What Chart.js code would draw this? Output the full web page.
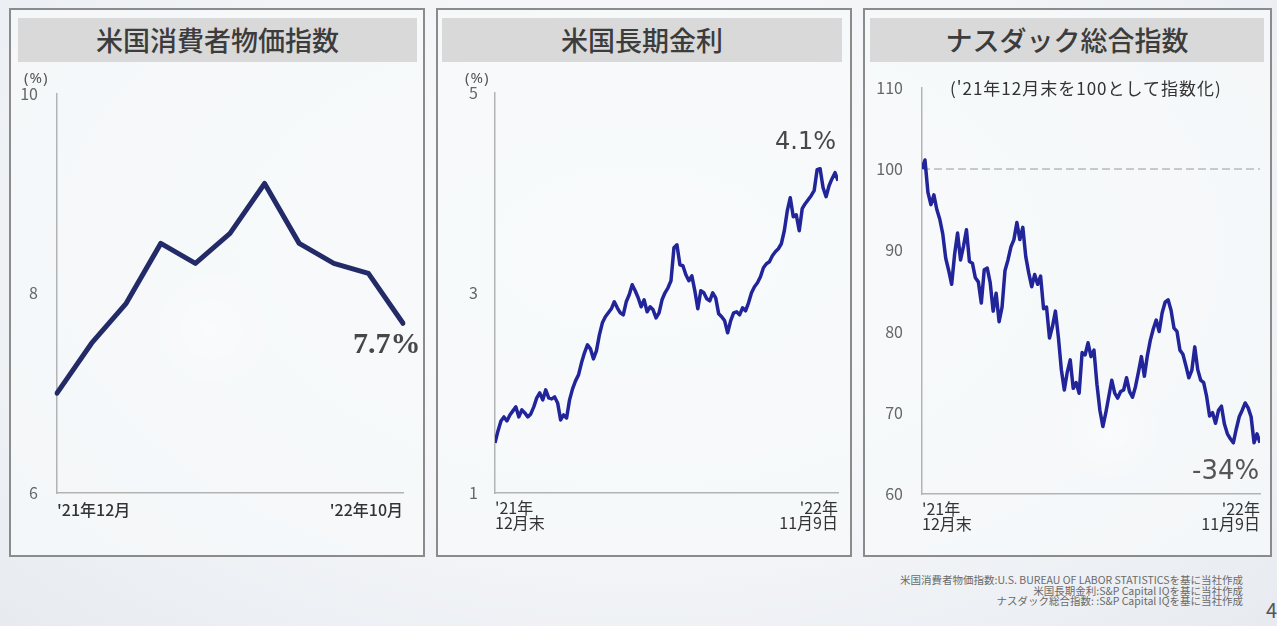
<!DOCTYPE html>
<html lang="ja">
<head>
<meta charset="utf-8">
<title>米国CPI・長期金利・ナスダック</title>
<script src="https://cdn.jsdelivr.net/npm/chart.js@4.4.0/dist/chart.umd.min.js"></script>
<style>
  html, body { margin: 0; padding: 0; }
  body {
    width: 1277px; height: 626px; overflow: hidden; position: relative;
    font-family: "Noto Sans CJK JP", "Noto Sans", sans-serif;
    background:
      radial-gradient(circle at 210px 330px, rgba(255,255,255,0.9) 0, rgba(255,255,255,0) 60px),
      radial-gradient(circle at 1110px 430px, rgba(255,255,255,0.9) 0, rgba(255,255,255,0) 50px),
      radial-gradient(ellipse at 50% 40%, #fbfcfd 0%, #f2f4f7 60%, #e7ebf0 100%);
  }
  .panel {
    position: absolute; top: 8px; height: 549px; box-sizing: border-box;
    border: 2px solid #8b8b8b; background: rgba(247,249,251,0.75);
  }
  .title {
    position: absolute; top: 18px; height: 44px; line-height: 44px;
    background: #d9d9d9; color: #3c3c3c; text-align: center;
    font-size: 27px; font-weight: 500;
  }
  canvas { position: absolute; }
  .txt { position: absolute; white-space: nowrap; line-height: 1; }
  .unit { font-size: 15px; letter-spacing: 1px; color: #555; font-family: "Noto Sans", sans-serif; }
  .note { position: absolute; right: 34px; top: 575px; text-align: right;
          font-size: 10.5px; line-height: 10.5px; color: #6a6a6a; }
</style>
</head>
<body>

<div class="panel" style="left:9px; width:416px;"></div>
<div class="panel" style="left:436px; width:416px;"></div>
<div class="panel" style="left:863px; width:409px;"></div>

<div class="title" style="left:18px; width:399px;">米国消費者物価指数</div>
<div class="title" style="left:442px; width:400px;">米国長期金利</div>
<div class="title" style="left:870px; width:394px;">ナスダック総合指数</div>

<canvas id="cpiChart" width="410" height="469" style="left:12px; top:65px;"></canvas>
<canvas id="yieldChart" width="406" height="476" style="left:440px; top:66px;"></canvas>
<canvas id="nasdaqChart" width="400" height="483" style="left:868px; top:59px;"></canvas>

<div class="txt unit" style="left:24px; top:70px;">(%)</div>
<div class="txt unit" style="left:465px; top:70px;">(%)</div>
<div class="txt" style="left:950px; top:79px; font-size:17px; letter-spacing:1px; color:#333;">('21年12月末を100として指数化)</div>

<div class="txt" style="left:353px; top:328px; font-family:'Liberation Serif', serif; font-weight:bold; font-size:30px; color:#474747;">7.7%</div>
<div class="txt" style="left:775px; top:129px; font-family:'DejaVu Sans', sans-serif; font-size:24px; color:#474747;">4.1%</div>
<div class="txt" style="left:1192px; top:457px; font-family:'DejaVu Sans', sans-serif; font-size:26px; color:#555;">-34%</div>

<div class="note">米国消費者物価指数:U.S. BUREAU OF LABOR STATISTICSを基に当社作成<br>米国長期金利:S&amp;P Capital IQを基に当社作成<br>ナスダック総合指数: :S&amp;P Capital IQを基に当社作成</div>
<div class="txt" style="left:1266px; top:600px; font-size:20px; color:#555;">4</div>

<script>
// ---- data ----
const cpiMonths = ["'21年12月", "'22年1月", "'22年2月", "'22年3月", "'22年4月", "'22年5月",
                   "'22年6月", "'22年7月", "'22年8月", "'22年9月", "'22年10月"];
const cpiValues = [7.0, 7.5, 7.9, 8.5, 8.3, 8.6, 9.1, 8.5, 8.3, 8.2, 7.7];
const cpiTicks = [6, 8, 10];

// endpoints of the daily series (end of Dec 2021 .. 9 Nov 2022)
const dailyEndLabels = [["'21年", "12月末"], ["'22年", "11月9日"]];

// US 10y yield (%), roughly every 2nd trading day
const yieldValues = [
  1.50, 1.62, 1.72, 1.76, 1.72, 1.78, 1.82, 1.86, 1.76, 1.83,
  1.80, 1.76, 1.79, 1.86, 1.95, 2.00, 1.93, 2.03, 1.95, 1.94,
  1.96, 1.90, 1.73, 1.78, 1.75, 1.93, 2.04, 2.12, 2.18, 2.30,
  2.40, 2.48, 2.44, 2.34, 2.42, 2.58, 2.70, 2.76, 2.80, 2.84,
  2.91, 2.85, 2.80, 2.78, 2.91, 2.98, 3.08, 3.02, 2.95, 2.86,
  2.93, 2.81, 2.86, 2.83, 2.75, 2.80, 2.93, 3.00, 3.05, 3.12,
  3.45, 3.48, 3.28, 3.27, 3.18, 3.12, 3.17, 3.02, 2.84, 3.02,
  3.00, 2.94, 2.92, 3.00, 2.95, 2.79, 2.76, 2.72, 2.60, 2.72,
  2.80, 2.81, 2.78, 2.85, 2.82, 2.90, 3.00, 3.06, 3.10, 3.16,
  3.25, 3.29, 3.31, 3.37, 3.41, 3.44, 3.49, 3.62, 3.82, 3.95,
  3.76, 3.78, 3.62, 3.84, 3.89, 3.93, 3.97, 4.02, 4.23, 4.24,
  4.05, 3.96, 4.07, 4.14, 4.20, 4.12
];
const yieldTicks = [1, 3, 5];

// Nasdaq composite, end of Dec 2021 = 100
const nasdaqValues = [
  100.0, 101.1, 97.1, 95.6, 96.8, 95.0, 93.8, 92.0, 89.0, 87.5,
  85.8, 89.5, 92.1, 88.8, 90.5, 92.5, 88.6, 88.4, 86.6, 86.1,
  83.5, 87.6, 87.8, 86.0, 82.5, 84.7, 81.2, 83.0, 87.5, 88.8,
  90.4, 91.3, 93.4, 91.3, 92.8, 89.2, 87.2, 85.5, 87.0, 85.8,
  86.8, 82.8, 83.0, 79.2, 80.6, 82.5, 79.3, 75.3, 72.8, 75.0,
  76.5, 73.0, 73.7, 72.4, 77.4, 77.1, 78.6, 76.9, 77.7, 73.5,
  70.3, 68.3, 70.0, 72.0, 74.0, 72.4, 71.8, 72.6, 72.8, 74.3,
  72.6, 71.9, 73.2, 75.0, 76.9, 74.5, 77.0, 78.9, 80.3, 81.4,
  80.0, 82.3, 83.6, 83.9, 82.6, 80.4, 80.0, 77.7, 77.2, 75.8,
  74.3, 75.2, 78.1, 75.3, 74.0, 73.7, 72.0, 69.6, 70.0, 68.7,
  70.3, 70.8, 68.6, 67.4, 66.8, 66.3, 68.0, 69.5, 70.3, 71.2,
  70.6, 69.5, 66.3, 67.4, 66.3
];
const nasdaqTicks = [60, 70, 80, 90, 100, 110];
const nasdaqBase = 100;

// ---- shared styling ----
const AXIS_COLOR = "#b3b3b3";
const TICK_COLOR = "#666";
const LABEL_COLOR = "#333";

Chart.defaults.font.family = "'Noto Sans CJK JP', 'Noto Sans', sans-serif";

// note: chart.js adds ticks.padding to the y axis' top padding too,
// so the canvases are moved up to compensate
function yAxis(min, max, tickList, width, pad) {
    return {
        min: min,
        max: max,
        afterBuildTicks: s => { s.ticks = tickList.map(v => ({ value: v })); },
        afterFit: s => { s.width = width; },
        grid: { display: false, drawTicks: false },
        border: { display: true, color: AXIS_COLOR, width: 1.5 },
        ticks: { color: TICK_COLOR, padding: pad, font: { size: 16 } }
    };
}

function xAxisBase(height, fontOpts) {
    return {
        afterFit: s => { s.height = height; },
        grid: { display: false, drawTicks: false },
        border: { display: true, color: AXIS_COLOR, width: 1.5 },
        ticks: {
            align: "inner", autoSkip: false, maxRotation: 0, minRotation: 0,
            color: LABEL_COLOR, padding: 8, font: fontOpts
        }
    };
}

const baseOptions = (padding, scales) => ({
    responsive: false,
    animation: false,
    devicePixelRatio: 1,
    layout: { padding: padding },
    plugins: { legend: { display: false }, tooltip: { enabled: false } },
    elements: { point: { radius: 0 } },
    scales: scales
});

// ---- 1. CPI ----
const cpiX = xAxisBase(41, { size: 16, weight: "500" });
cpiX.type = "category";
cpiX.ticks.padding = 7;
cpiX.afterBuildTicks = s => { const t = s.ticks; s.ticks = [t[0], t[t.length - 1]]; };

new Chart(document.getElementById("cpiChart"), {
    type: "line",
    data: {
        labels: cpiMonths,
        datasets: [{
            data: cpiValues,
            borderColor: "#232a68",
            borderWidth: 5,
            tension: 0,
            borderJoinStyle: "round",
            borderCapStyle: "round"
        }]
    },
    options: baseOptions({ top: 0, right: 19, left: 0, bottom: 0 }, {
        x: cpiX,
        y: yAxis(6, 10, cpiTicks, 45, 19)
    })
});

// ---- helper for the daily series ----
function dailyX(n, height) {
    const ax = xAxisBase(height, { size: 16, lineHeight: 0.9 });
    ax.type = "linear";
    ax.min = 0;
    ax.max = n - 1;
    ax.afterBuildTicks = s => { s.ticks = [{ value: 0 }, { value: n - 1 }]; };
    ax.ticks.callback = v => (v === 0 ? dailyEndLabels[0] : dailyEndLabels[1]);
    return ax;
}

const toXY = arr => arr.map((v, i) => ({ x: i, y: v }));

// ---- 2. 10y yield ----
new Chart(document.getElementById("yieldChart"), {
    type: "line",
    data: {
        datasets: [{
            data: toXY(yieldValues),
            borderColor: "#22249a",
            borderWidth: 3.5,
            tension: 0,
            borderJoinStyle: "round"
        }]
    },
    options: baseOptions({ top: 0, right: 7, left: 0, bottom: 0 }, {
        x: dailyX(yieldValues.length, 49),
        y: yAxis(1, 5, yieldTicks, 55, 17)
    })
});

// ---- 3. Nasdaq ----
const lastIdx = nasdaqValues.length - 1;
new Chart(document.getElementById("nasdaqChart"), {
    type: "line",
    data: {
        datasets: [
            {
                data: toXY(nasdaqValues),
                borderColor: "#22249a",
                borderWidth: 3.5,
                tension: 0,
                borderJoinStyle: "round",
                order: 0
            },
            {
                // 100 reference line
                data: [{ x: 0, y: nasdaqBase }, { x: lastIdx, y: nasdaqBase }],
                borderColor: "#b9b9b9",
                borderWidth: 1.5,
                borderDash: [8, 4],
                order: 1
            }
        ]
    },
    options: baseOptions({ top: 0, right: 4, left: 0, bottom: 0 }, {
        x: dailyX(nasdaqValues.length, 48),
        y: yAxis(60, 110, nasdaqTicks, 54, 19)
    })
});
</script>
</body>
</html>
